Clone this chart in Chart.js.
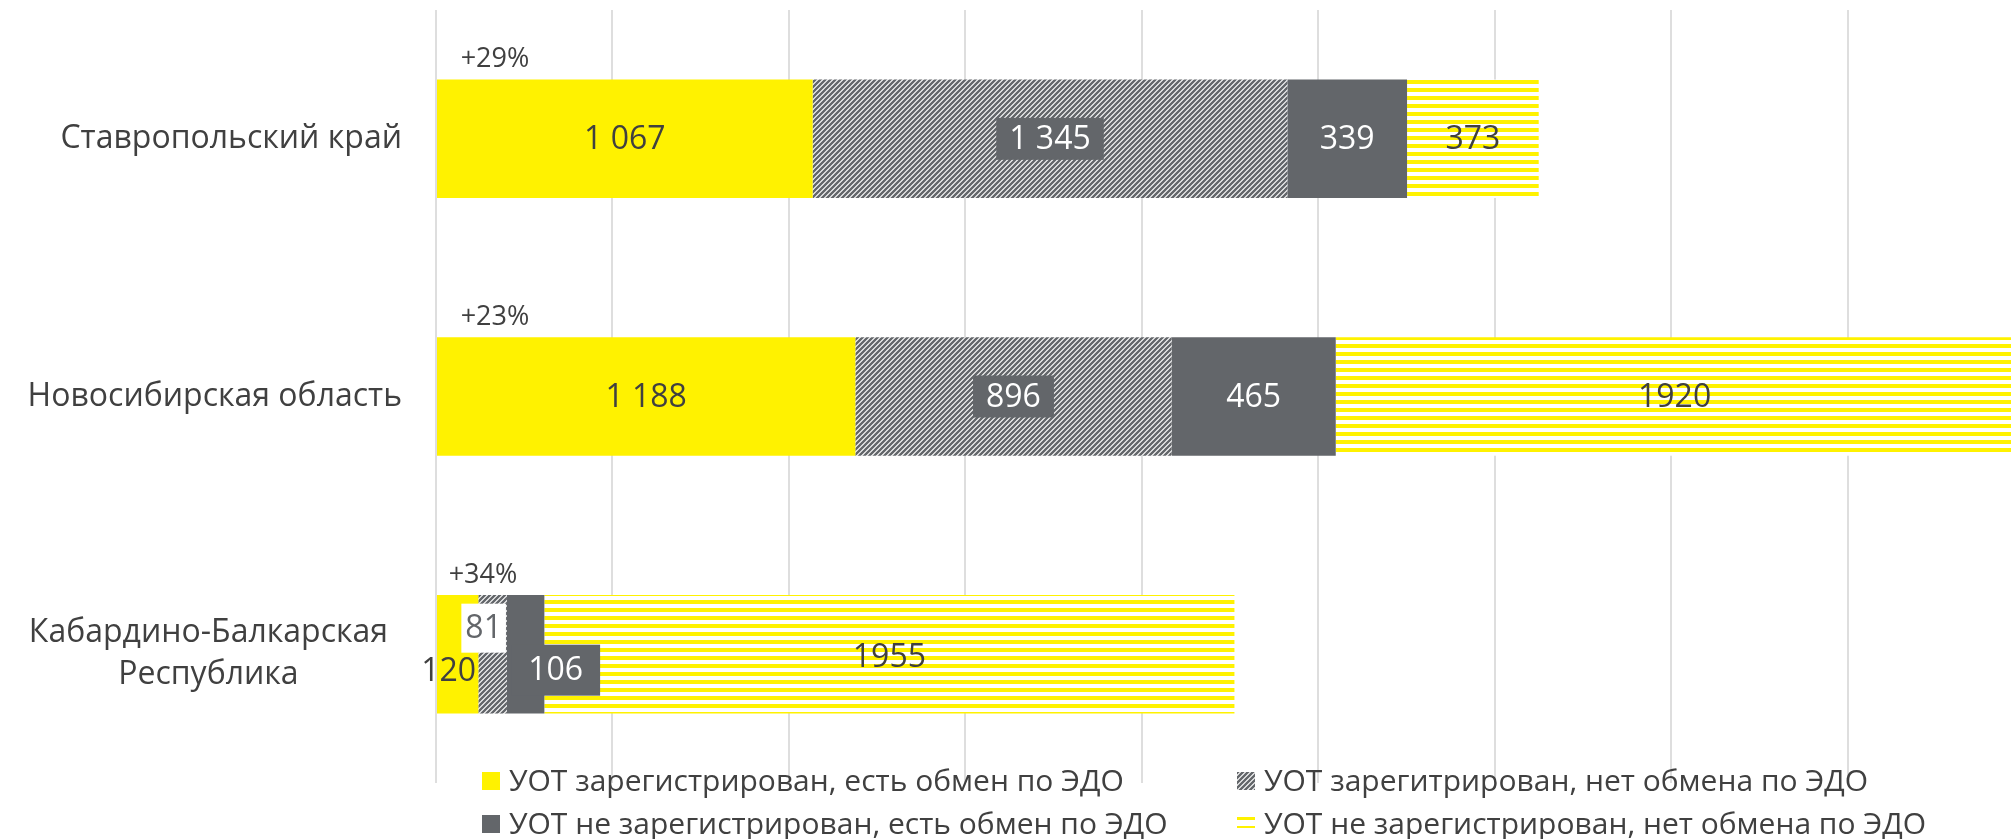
<!DOCTYPE html>
<html>
<head>
<meta charset="utf-8">
<script src="https://cdn.jsdelivr.net/npm/chart.js@4/dist/chart.umd.min.js"></script>
<style>
  html, body { margin: 0; padding: 0; background: #fff; }
  #wrap { width: 2011px; height: 839px; }
</style>
</head>
<body>
<div id="wrap"><canvas id="grafico" width="2011" height="839"></canvas></div>
<script>
// данные
const regiones = ['Ставропольский край', 'Новосибирская область', ['Кабардино-Балкарская', 'Республика']];
const regConEdo = [1067, 1188, 120];
const regSinEdo = [1345, 896, 81];
const noRegConEdo = [339, 465, 106];
const noRegSinEdo = [373, 1920, 1955];
const crecimiento = ['+29%', '+23%', '+34%'];
const series = [
  'УОТ зарегистрирован, есть обмен по ЭДО',
  'УОТ зарегитрирован, нет обмена по ЭДО',
  'УОТ не зарегистрирован, есть обмен по ЭДО',
  'УОТ не зарегистрирован, нет обмена по ЭДО'
];
const marcasX = [0, 500, 1000, 1500, 2000, 2500, 3000, 3500, 4000];
const ejeMax = 4462;

const AMARILLO = '#fff200';
const GRIS = '#63666a';
const TEXTO = '#404040';
const FUENTE = '"Open Sans", "Noto Sans", sans-serif';

function rayasDiagonales() {
  const c = document.createElement('canvas');
  c.width = 5; c.height = 5;
  const g = c.getContext('2d');
  g.fillStyle = '#fff';
  g.fillRect(0, 0, 5, 5);
  g.strokeStyle = GRIS;
  g.lineWidth = 2.4;
  g.beginPath();
  g.moveTo(-1, 6); g.lineTo(6, -1);
  g.moveTo(-4, 4); g.lineTo(4, -4);
  g.moveTo(1, 9); g.lineTo(9, 1);
  g.stroke();
  return g.createPattern(c, 'repeat');
}

function rayasHorizontales() {
  const c = document.createElement('canvas');
  c.width = 4; c.height = 8;
  const g = c.getContext('2d');
  g.fillStyle = '#fff';
  g.fillRect(0, 0, 4, 8);
  g.fillStyle = AMARILLO;
  g.fillRect(0, 0, 4, 4);
  return g.createPattern(c, 'repeat');
}

const colores = [AMARILLO, rayasDiagonales(), GRIS, rayasHorizontales()];

// estilo de etiquetas por serie
const etiquetas = [
  { color: TEXTO, fondo: null, miles: true },
  { color: '#fff', fondo: GRIS, miles: true, pad: 13, alto: 42 },
  { color: '#fff', fondo: null, miles: true },
  { color: TEXTO, fondo: null, miles: false }
];
// desplazamientos (px) para la categoría estrecha
const desplaz = [
  [[0, 0], [0, 0], [-9, 17]],
  [[0, 0], [0, 0], [-9, -26]],
  [[0, 0], [0, 0], [30, 16]],
  [[0, 0], [0, 0], [0, 3]]
];
const estiloEspecial = {
  '1-2': { color: GRIS, fondo: '#fff', pad: 4, alto: 49 },
  '2-2': { color: '#fff', fondo: GRIS, pad: 17, alto: 51 }
};

function fmt(v, miles) {
  const s = String(v);
  return miles ? s.replace(/\B(?=(\d{3})+(?!\d))/g, ' ') : s;
}

const pluginEtiquetas = {
  id: 'etiquetas',
  afterDatasetsDraw(chart) {
    const ctx = chart.ctx;
    ctx.save();
    ctx.font = '32px ' + FUENTE;
    ctx.textAlign = 'center';
    ctx.textBaseline = 'middle';
    chart.data.datasets.forEach((ds, i) => {
      const meta = chart.getDatasetMeta(i);
      meta.data.forEach((bar, j) => {
        const p = bar.getProps(['x', 'y', 'base'], true);
        const est = Object.assign({}, etiquetas[i], estiloEspecial[i + '-' + j] || {});
        const x = (p.x + p.base) / 2 + desplaz[i][j][0];
        const y = p.y + desplaz[i][j][1];
        const txt = fmt(ds.data[j], est.miles);
        if (est.fondo) {
          const w = ctx.measureText(txt).width + 2 * est.pad;
          ctx.fillStyle = est.fondo;
          ctx.fillRect(x - w / 2, y - est.alto / 2, w, est.alto);
        }
        ctx.fillStyle = est.color;
        ctx.fillText(txt, x, y + 1);
      });
    });
    // crecimiento sobre cada barra
    const meta0 = chart.getDatasetMeta(0);
    const dx = [58, 58, 46];
    ctx.font = '27px ' + FUENTE;
    ctx.fillStyle = TEXTO;
    meta0.data.forEach((bar, j) => {
      const p = bar.getProps(['base', 'y', 'height'], true);
      ctx.fillText(crecimiento[j], p.base + dx[j], p.y - p.height / 2 - 20);
    });
    ctx.restore();
  }
};

const pluginCategorias = {
  id: 'categorias',
  afterDraw(chart) {
    const ctx = chart.ctx;
    const y = chart.scales.y;
    const margen = [34, 34, 48];
    ctx.save();
    ctx.font = '32px ' + FUENTE;
    ctx.fillStyle = TEXTO;
    ctx.textBaseline = 'middle';
    regiones.forEach((r, j) => {
      const cy = y.getPixelForValue(j);
      const right = chart.chartArea.left - margen[j];
      if (Array.isArray(r)) {
        const maxW = Math.max(...r.map(l => ctx.measureText(l).width));
        const cx = right - maxW / 2;
        ctx.textAlign = 'center';
        r.forEach((l, k) => ctx.fillText(l, cx, cy + (k - (r.length - 1) / 2) * 42));
      } else {
        ctx.textAlign = 'right';
        ctx.fillText(r, right, cy);
      }
    });
    ctx.restore();
  }
};

const pluginLeyenda = {
  id: 'leyendaPropia',
  afterDraw(chart) {
    const ctx = chart.ctx;
    const pos = [[482, 781], [1237, 781], [482, 824], [1237, 824]];
    ctx.save();
    ctx.font = '30px ' + FUENTE;
    ctx.textBaseline = 'middle';
    ctx.textAlign = 'left';
    chart.data.datasets.forEach((ds, i) => {
      const [x, y] = pos[i];
      ctx.fillStyle = ds.backgroundColor;
      if (i === 3) {
        ctx.fillRect(x, y - 7, 18, 4);
        ctx.fillRect(x, y + 2, 18, 4);
      } else {
        ctx.fillRect(x, y - 9, 18, 18);
      }
      ctx.fillStyle = TEXTO;
      ctx.fillText(ds.label, x + 27, y + 1);
    });
    ctx.restore();
  }
};

const datos = [regConEdo, regSinEdo, noRegConEdo, noRegSinEdo];

new Chart(document.getElementById('grafico').getContext('2d'), {
  type: 'bar',
  data: {
    labels: regiones,
    datasets: datos.map((d, i) => ({
      label: series[i],
      data: d,
      backgroundColor: colores[i],
      borderWidth: 0,
      barPercentage: 0.46,
      categoryPercentage: 1
    }))
  },
  options: {
    indexAxis: 'y',
    responsive: false,
    animation: false,
    layout: { padding: { left: 436, top: 10, bottom: 56, right: 0 } },
    plugins: {
      legend: { display: false },
      tooltip: { enabled: false }
    },
    scales: {
      x: {
        type: 'linear',
        stacked: true,
        min: 0,
        max: ejeMax,
        afterBuildTicks: s => { s.ticks = marcasX.map(v => ({ value: v })); },
        ticks: { display: false },
        grid: { color: '#dedede', lineWidth: 2, drawTicks: false },
        border: { display: false }
      },
      y: {
        stacked: true,
        ticks: { display: false },
        grid: { display: false, drawTicks: false },
        border: { display: false }
      }
    }
  },
  plugins: [pluginEtiquetas, pluginCategorias, pluginLeyenda]
});
</script>
</body>
</html>
